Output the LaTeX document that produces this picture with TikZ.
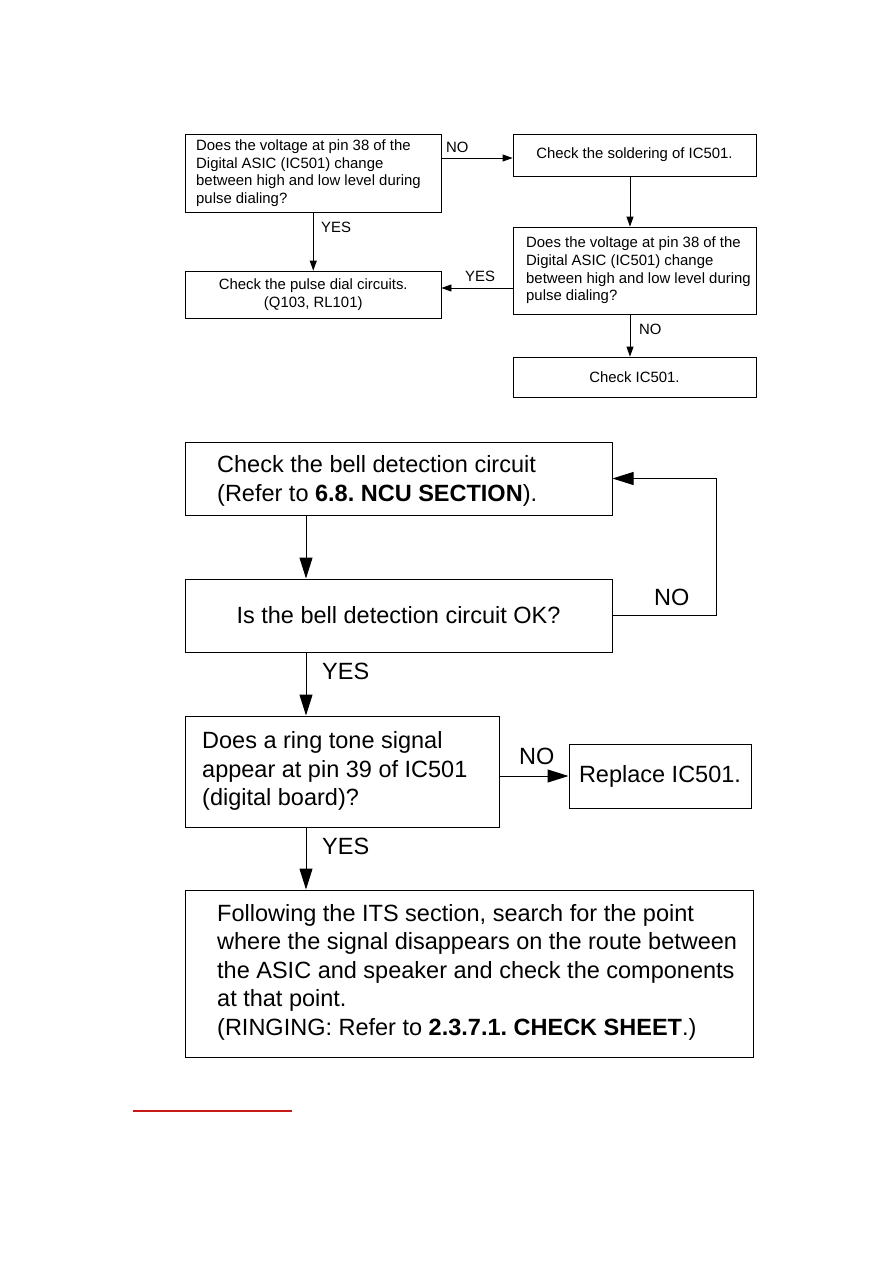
\documentclass[tikz,border=0pt]{standalone}
\usepackage{fontspec}
\setmainfont{Liberation Sans}
\usetikzlibrary{arrows.meta,calc}
\definecolor{redline}{RGB}{200,25,25}
\frenchspacing
\begin{document}
\begin{tikzpicture}[x=1pt,y=-1pt,
  box/.style={draw, inner sep=0pt},
  tb/.style={box, line width=0.8pt, font=\fontsize{14.9}{17.7}\selectfont, align=center},
  bb/.style={box, line width=1pt, font=\fontsize{23.5}{28.5}\selectfont, align=center},
  ttxt/.style={font=\fontsize{14.9}{17.7}\selectfont, align=left, inner sep=0pt},
  btxt/.style={font=\fontsize{23.5}{28.5}\selectfont, align=left, inner sep=0pt},
  tarr/.style={line width=0.8pt, -{Triangle[length=10pt,width=7pt]}},
  barr/.style={line width=1pt, -{Triangle[length=21pt,width=13pt]}}]
\fill[white] (0,0) rectangle (893,1263);
\useasboundingbox (0,0) rectangle (893,1263);

% top section
\node[tb, minimum width=255.5pt, minimum height=78.5pt] (A) at (313.25,173.25) {};
\node[ttxt, anchor=west] (At) at (196,173.25) {Does the voltage at pin 38 of the\\Digital ASIC (IC501) change\\between high and low level during\\pulse dialing?};
\node[tb, minimum width=243pt, minimum height=42pt] (B) at (634.5,155) {Check the soldering of IC501.};
\node[tb, minimum width=243pt, minimum height=87pt] (C) at (634.5,270.5) {};
\node[ttxt, anchor=west] (Ct) at (526,270.5) {Does the voltage at pin 38 of the\\Digital ASIC (IC501) change\\between high and low level during\\pulse dialing?};
\node[tb, minimum width=255.5pt, minimum height=47pt] (D) at (313.25,294.5) {Check the pulse dial circuits.\\(Q103, RL101)};
\node[tb, minimum width=243pt, minimum height=40pt] (E) at (634.5,377) {Check IC501.};

\draw[tarr] (A.east |- 0,158) -- (B.west |- 0,158);
\node[ttxt, anchor=west] (lNO1) at (446,147) {NO};
\draw[tarr] (A.south) -- (D.north);
\node[ttxt, anchor=west] (lYES1) at (321,227) {YES};
\draw[tarr] (B.south -| 630,0) -- (C.north -| 630,0);
\draw[tarr] (C.west |- 0,288) -- (D.east |- 0,288);
\node[ttxt, anchor=west] (lYES2) at (465,276) {YES};
\draw[tarr] (C.south -| 630,0) -- (E.north -| 630,0);
\node[ttxt, anchor=west] (lNO2) at (639,329) {NO};

% bottom section
\node[bb, minimum width=427pt, minimum height=73pt] (F) at (398.5,478.5) {};
\node[btxt, anchor=west] (Ft) at (217,481) {Check the bell detection circuit\\(Refer to \textbf{6.8. NCU SECTION}).};
\node[bb, minimum width=427pt, minimum height=73pt] (G) at (398.5,615.5) {Is the bell detection circuit OK?};
\node[bb, minimum width=314pt, minimum height=111pt] (H) at (342,771.5) {};
\node[btxt, anchor=west] (Ht) at (202,771) {Does a ring tone signal\\appear at pin 39 of IC501\\(digital board)?};
\node[bb, minimum width=182pt, minimum height=64pt] (I) at (660,776) {Replace IC501.};
\node[bb, minimum width=568pt, minimum height=167pt] (J) at (469,973.5) {};
\node[btxt, anchor=west] (Jt) at (217,972) {Following the ITS section, search for the point\\where the signal disappears on the route between\\the ASIC and speaker and check the components\\at that point.\\(RINGING: Refer to \textbf{2.3.7.1. CHECK SHEET}.)};

\draw[barr] (F.south -| 306,0) -- (G.north -| 306,0);
\draw[barr] (G.east) -- ++(104,0) |- (F.east);
\node[btxt, anchor=west] (lNO3) at (654,597) {NO};
\draw[barr] (G.south -| 306,0) -- (H.north -| 306,0);
\node[btxt, anchor=west] (lYES3) at (322,671) {YES};
\draw[barr] (H.east |- I.west) -- (I.west);
\node[btxt, anchor=west] (lNO4) at (519,756) {NO};
\draw[barr] (H.south -| 306,0) -- (J.north -| 306,0);
\node[btxt, anchor=west] (lYES4) at (322,846) {YES};

\draw[redline, line width=1.5pt] (133,1111) -- (292,1111);
\end{tikzpicture}
\end{document}
